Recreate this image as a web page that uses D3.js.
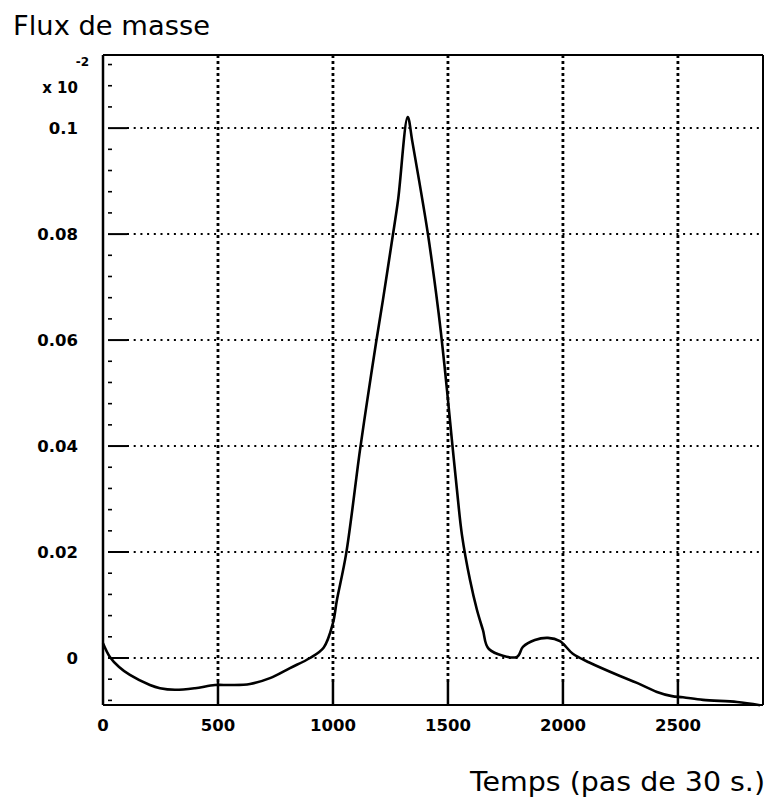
<!DOCTYPE html>
<html>
<head>
<meta charset="utf-8">
<script src="https://cdn.jsdelivr.net/npm/d3@7"></script>
<style>
  html, body { margin: 0; padding: 0; background: #fff; }
  svg { display: block; }
</style>
</head>
<body>
<svg id="chart" width="773" height="810"></svg>
<script>
// ---- data ----
const time = [0, 30, 70, 117, 204, 248, 313, 400, 487, 552, 639, 726, 813, 900, 960, 1000, 1017, 1057, 1117, 1148, 1187, 1217, 1259, 1283, 1325,
  1345, 1375, 1413, 1448, 1470, 1496, 1517, 1539, 1561, 1596, 1626, 1652, 1678, 1800, 1826, 1878, 1935, 1987, 2043, 2117, 2248, 2322, 2409, 2474, 2522, 2609, 2757, 2857];
const flux = [0.0028, 0.0002, -0.0017, -0.0032, -0.0051, -0.0057, -0.0060, -0.0057, -0.0051, -0.0051, -0.0049, -0.0038, -0.0019, 0.0000, 0.0020, 0.0066, 0.0109, 0.0196, 0.0391, 0.0483, 0.0594, 0.0675, 0.0794, 0.0864, 0.1021,
  0.0975, 0.0900, 0.0800, 0.0690, 0.0612, 0.0505, 0.0412, 0.0318, 0.0232, 0.0147, 0.0091, 0.0053, 0.0017, 0.0002, 0.0021, 0.0034, 0.0038, 0.0032, 0.0008, -0.0009, -0.0034, -0.0047, -0.0064, -0.0072, -0.0074, -0.0079, -0.0083, -0.0089];
const xTicks = [0, 500, 1000, 1500, 2000, 2500];
const xGrid = [500, 1000, 1500, 2000, 2500];
const yTicks = [0, 0.02, 0.04, 0.06, 0.08, 0.1];
const yTickLabels = ["0", "0.02", "0.04", "0.06", "0.08", "0.1"];
const yMinor = [-0.008, -0.004, 0.004, 0.008, 0.012, 0.016, 0.024, 0.028, 0.032, 0.036, 0.044, 0.048, 0.052, 0.056,
  0.064, 0.068, 0.072, 0.076, 0.084, 0.088, 0.092, 0.096, 0.104, 0.108, 0.112];

// ---- layout ----
const L = 103, R = 763, T = 55, B = 705;
const svg = d3.select("#chart");
const x = d3.scaleLinear().domain([0, 2870]).range([L, R]);
const y = d3.scaleLinear().domain([-0.00887, 0.1138]).range([B, T]);

// horizontal dotted grid + major ticks
svg.append("g").selectAll("line").data(yTicks).join("line")
  .attr("x1", 127).attr("x2", R).attr("y1", d => y(d)).attr("y2", d => y(d))
  .attr("stroke", "#000").attr("stroke-width", 2).attr("stroke-dasharray", "2,4.7");
svg.append("g").selectAll("line").data(yTicks).join("line")
  .attr("x1", 108).attr("x2", 127).attr("y1", d => y(d)).attr("y2", d => y(d))
  .attr("stroke", "#000").attr("stroke-width", 2);
// minor y ticks
svg.append("g").selectAll("line").data(yMinor).join("line")
  .attr("x1", 108).attr("x2", 112).attr("y1", d => y(d)).attr("y2", d => y(d))
  .attr("stroke", "#000").attr("stroke-width", 1.6);

// vertical dotted grid + major ticks
svg.append("g").selectAll("line").data(xGrid).join("line")
  .attr("x1", d => x(d)).attr("x2", d => x(d)).attr("y1", T).attr("y2", 682)
  .attr("stroke", "#000").attr("stroke-width", 2.8).attr("stroke-dasharray", "3,3");
svg.append("g").selectAll("line").data(xGrid).join("line")
  .attr("x1", d => x(d)).attr("x2", d => x(d)).attr("y1", 682).attr("y2", B)
  .attr("stroke", "#000").attr("stroke-width", 2.5);

// frame
svg.append("line").attr("x1", L).attr("x2", R).attr("y1", T).attr("y2", T).attr("stroke", "#000").attr("stroke-width", 1.8);
svg.append("line").attr("x1", R).attr("x2", R).attr("y1", T).attr("y2", B).attr("stroke", "#000").attr("stroke-width", 2);
svg.append("line").attr("x1", L).attr("x2", L).attr("y1", T).attr("y2", B).attr("stroke", "#000").attr("stroke-width", 2.5);
svg.append("line").attr("x1", L).attr("x2", R).attr("y1", B).attr("y2", B).attr("stroke", "#000").attr("stroke-width", 2.2);

// curve
const line = d3.line()
  .x(i => x(time[i]))
  .y(i => y(flux[i]))
  .curve(d3.curveCatmullRom.alpha(0.5));
svg.append("path")
  .attr("d", line(d3.range(time.length)))
  .attr("fill", "none").attr("stroke", "#000").attr("stroke-width", 2.6).attr("stroke-linejoin", "round");

// y tick labels
svg.append("g").selectAll("text").data(yTicks).join("text")
  .attr("x", 78).attr("y", d => y(d) + 6)
  .attr("text-anchor", "end")
  .attr("font-family", "DejaVu Sans").attr("font-weight", "bold").attr("font-size", 16.5)
  .text((d, i) => yTickLabels[i]);

// x tick labels
svg.append("g").selectAll("text").data(xTicks).join("text")
  .attr("x", d => x(d)).attr("y", 731)
  .attr("text-anchor", "middle")
  .attr("font-family", "DejaVu Sans").attr("font-weight", "bold").attr("font-size", 16.5)
  .text(d => d);

// exponent
svg.append("text").attr("x", 78).attr("y", 93).attr("text-anchor", "end")
  .attr("font-family", "DejaVu Sans").attr("font-weight", "bold").attr("font-size", 15)
  .text("x 10");
svg.append("text").attr("x", 89).attr("y", 66).attr("text-anchor", "end")
  .attr("font-family", "DejaVu Sans").attr("font-weight", "bold").attr("font-size", 12)
  .text("-2");

// axis titles
svg.append("text").attr("x", 13).attr("y", 35)
  .attr("font-family", "DejaVu Sans").attr("font-size", 27)
  .attr("textLength", 197).attr("lengthAdjust", "spacingAndGlyphs")
  .text("Flux de masse");
svg.append("text").attr("x", 470).attr("y", 791)
  .attr("font-family", "DejaVu Sans").attr("font-size", 26)
  .attr("textLength", 295).attr("lengthAdjust", "spacingAndGlyphs")
  .text("Temps (pas de 30 s.)");
</script>
</body>
</html>
